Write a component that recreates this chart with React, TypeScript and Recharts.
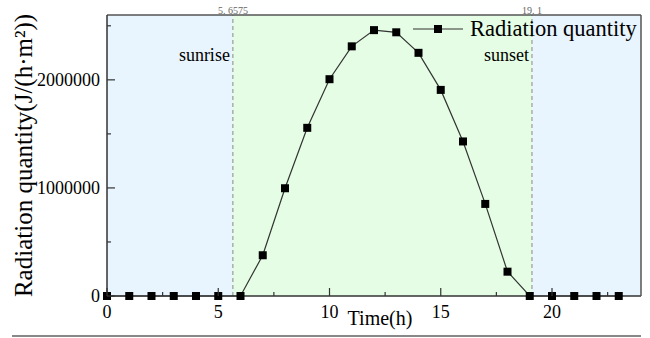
import {
  LineChart,
  Line,
  XAxis,
  YAxis,
  ReferenceArea,
  ReferenceLine,
  Label,
  Legend,
} from "recharts";

const SERIF = '"Liberation Serif", "Times New Roman", serif';

const hours = [0, 1, 2, 3, 4, 5, 6, 7, 8, 9, 10, 11, 12, 13, 14, 15, 16, 17, 18, 19, 20, 21, 22, 23];
const radiation = [
  0, 0, 0, 0, 0, 0, 0, 377000, 997000, 1556000, 2006000, 2310000, 2460000, 2440000, 2250000,
  1907000, 1430000, 852000, 225000, 0, 0, 0, 0, 0,
];

const xTicks = [0, 2.5, 5, 7.5, 10, 12.5, 15, 17.5, 20, 22.5];
const yTicks = [0, 500000, 1000000, 1500000, 2000000, 2500000];

const sunriseTime = 5.6575;
const sunsetTime = 19.1;
const sunriseText = "5. 6575";
const sunsetText = "19. 1";

const dayParts = [
  { from: 0, to: sunriseTime, kind: "night" },
  { from: sunriseTime, to: sunsetTime, kind: "day" },
  { from: sunsetTime, to: 24, kind: "night" },
];

const partColors: Record<string, string> = { night: "#e8f4fe", day: "#e4fde4" };

const data = hours.map((h, i) => ({ hour: h, radiation: radiation[i] }));

function XTick(props: any) {
  const { x, y, payload } = props;
  const major = payload.value % 5 === 0;
  return (
    <g>
      <line x1={x} y1={y} x2={x} y2={y - (major ? 8 : 4)} stroke="#333" strokeWidth={1.2} />
      {major && (
        <text x={x} y={y + 9} dy="0.71em" textAnchor="middle" fontSize={18} fontFamily={SERIF} fill="#000">
          {payload.value}
        </text>
      )}
    </g>
  );
}

function YTick(props: any) {
  const { x, y, payload } = props;
  const major = payload.value % 1000000 === 0;
  return (
    <g>
      <line x1={x} y1={y} x2={x + (major ? 8 : 4)} y2={y} stroke="#333" strokeWidth={1.2} />
      {major && (
        <text x={x - 7} y={y} dy="0.355em" textAnchor="end" fontSize={18} fontFamily={SERIF} fill="#000">
          {payload.value}
        </text>
      )}
    </g>
  );
}

function SquareDot(props: any) {
  const { cx, cy, index } = props;
  return <rect key={`dot-${index}`} x={cx - 4} y={cy - 4} width={8} height={8} fill="#000" />;
}

function LegendContent() {
  return (
    <div style={{ display: "flex", alignItems: "center", fontFamily: SERIF, fontSize: 22.5, lineHeight: 1, color: "#000", whiteSpace: "nowrap" }}>
      <svg width={50} height={10}>
        <line x1={0} y1={5} x2={50} y2={5} stroke="#333" strokeWidth={1.2} />
        <rect x={21} y={1} width={8} height={8} fill="#000" />
      </svg>
      <span style={{ marginLeft: 7 }}>Radiation quantity</span>
    </div>
  );
}

export default function App() {
  return (
    <div style={{ position: "absolute", left: 0, top: 0, width: 650, height: 338, background: "#fff" }}>
      <LineChart width={650} height={338} data={data} margin={{ top: 14, right: 8, bottom: 0, left: 0 }}>
        {dayParts.map((p, i) => (
          <ReferenceArea key={`part-${i}`} x1={p.from} x2={p.to} fill={partColors[p.kind]} fillOpacity={1} stroke="none" ifOverflow="hidden" />
        ))}
        <ReferenceLine
          x={sunriseTime}
          stroke="#888"
          strokeDasharray="4 3"
          label={{ value: sunriseText, position: "top", offset: 1, fontSize: 10, fill: "#666", fontFamily: SERIF }}
        >
          <Label value="sunrise" position="insideTopRight" offset={3} dy={30} fontSize={18} fill="#000" fontFamily={SERIF} />
        </ReferenceLine>
        <ReferenceLine
          x={sunsetTime}
          stroke="#888"
          strokeDasharray="4 3"
          label={{ value: sunsetText, position: "top", offset: 1, fontSize: 10, fill: "#666", fontFamily: SERIF }}
        >
          <Label value="sunset" position="insideTopRight" offset={3} dy={30} fontSize={18} fill="#000" fontFamily={SERIF} />
        </ReferenceLine>
        <XAxis
          dataKey="hour"
          type="number"
          domain={[0, 24]}
          ticks={xTicks}
          interval={0}
          height={42}
          tickSize={0}
          tickMargin={0}
          tickLine={false}
          tick={<XTick />}
          axisLine={{ stroke: "#333", strokeWidth: 1.5 }}
        >
          <Label value="Time(h)" position="insideTop" offset={15} dx={6} fontSize={20} fill="#000" fontFamily={SERIF} />
        </XAxis>
        <XAxis xAxisId="top" orientation="top" type="number" domain={[0, 24]} height={1} tick={false} tickLine={false} axisLine={{ stroke: "#555", strokeWidth: 1.5 }} />
        <YAxis
          type="number"
          domain={[0, 2600000]}
          ticks={yTicks}
          interval={0}
          width={107}
          tickSize={0}
          tickMargin={0}
          tickLine={false}
          tick={<YTick />}
          axisLine={{ stroke: "#333", strokeWidth: 1.5 }}
        >
          <Label
            value="Radiation quantity(J/(h·m²))"
            position="center"
            angle={-90}
            dx={-30}
            fontSize={25}
            fill="#000"
            fontFamily={SERIF}
          />
        </YAxis>
        <YAxis yAxisId="right" orientation="right" type="number" domain={[0, 2600000]} width={1} tick={false} tickLine={false} axisLine={{ stroke: "#555", strokeWidth: 1.5 }} />
        <Legend
          layout="vertical"
          align="center"
          verticalAlign="middle"
          content={<LegendContent />}
          wrapperStyle={{ top: 18, left: 413, width: "auto" }}
        />
        <Line
          dataKey="radiation"
          stroke="#333"
          strokeWidth={1.2}
          dot={SquareDot}
          activeDot={false}
          isAnimationActive={false}
        />
      </LineChart>
      <div style={{ position: "absolute", left: 12, top: 335, width: 629, height: 2, background: "#888" }} />
    </div>
  );
}
